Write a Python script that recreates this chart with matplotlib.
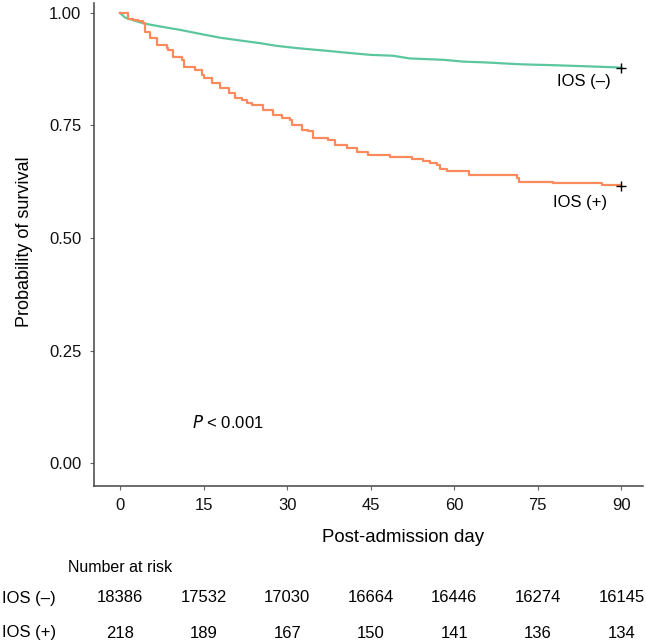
import matplotlib.pyplot as plt
from matplotlib.transforms import blended_transform_factory

plt.rcParams['font.family'] = ['Liberation Sans', 'DejaVu Sans']

# Kaplan-Meier curves (day, survival)
neg_days = [0, 0.9, 2.3, 4.2, 7.2, 11.0, 13.8, 18.0, 22.1, 25.1, 28.1, 31.7, 37.1,
            41.3, 44.9, 49.0, 52.0, 58.0, 61.6, 65.9, 71.9, 77.8, 85.0, 89.5, 90]
neg_surv = [1.0, 0.990, 0.984, 0.977, 0.970, 0.962, 0.955, 0.945, 0.938, 0.933, 0.927,
            0.922, 0.916, 0.911, 0.907, 0.905, 0.899, 0.896, 0.892, 0.890, 0.886,
            0.884, 0.881, 0.879, 0.878]

pos_days = [0, 1.5, 2.4, 3.3, 4.2, 4.5, 5.4, 6.6, 8.4, 8.7, 9.6, 11.1, 11.4, 13.5,
            14.7, 15.0, 16.5, 18.0, 19.5, 20.7, 21.9, 22.8, 23.7, 25.7, 27.5, 29.0,
            30.5, 30.8, 32.6, 33.7, 34.7, 37.4, 38.6, 40.7, 42.5, 44.6, 48.5, 52.4,
            54.4, 55.7, 56.9, 57.5, 58.7, 62.6, 71.3, 71.7, 77.8, 86.5, 90]
pos_surv = [1.0, 0.987, 0.984, 0.982, 0.977, 0.958, 0.944, 0.929, 0.922, 0.918, 0.903,
            0.896, 0.881, 0.873, 0.862, 0.855, 0.844, 0.833, 0.822, 0.811, 0.807,
            0.801, 0.796, 0.785, 0.774, 0.766, 0.762, 0.751, 0.740, 0.737, 0.722,
            0.718, 0.707, 0.701, 0.690, 0.685, 0.681, 0.675, 0.670, 0.666, 0.663,
            0.653, 0.649, 0.640, 0.633, 0.625, 0.622, 0.617, 0.615]

# number at risk table
risk_days = [0, 15, 30, 45, 60, 75, 90]
risk_neg = [18386, 17532, 17030, 16664, 16446, 16274, 16145]
risk_pos = [218, 189, 167, 150, 141, 136, 134]

green = '#5cc79f'
orange = '#fd8a5c'

fig = plt.figure(figsize=(6.46, 6.44), dpi=100)
ax = fig.add_axes([94 / 646, 1 - 486 / 644, 1 - 94 / 646 - 0.004, (486 - 3) / 644])

# the large group has tiny steps, so it reads as an almost smooth line
ax.plot(neg_days, neg_surv, color=green, lw=1.6)
ax.plot(pos_days, pos_surv, drawstyle='steps-post', color=orange, lw=1.6)
# censor marks at the end of follow-up
ax.plot([neg_days[-1], pos_days[-1]], [neg_surv[-1], pos_surv[-1]], '+',
        color='black', ms=7, mew=1.0)

ax.text(88, 0.847, 'IOS (–)', ha='right', va='center', fontsize=12)
ax.text(87.5, 0.578, 'IOS (+)', ha='right', va='center', fontsize=12)
ax.text(12.9, 0.089, r'$\it{P}$ < 0.001', ha='left', va='center', fontsize=12)

ax.set_xlim(-4.67, 93.95)
ax.set_ylim(-0.0511, 1.0222)
ax.set_xticks(risk_days)
ax.set_yticks([0, 0.25, 0.5, 0.75, 1.0])
ax.set_yticklabels(['0.00', '0.25', '0.50', '0.75', '1.00'])

for side in ['top', 'right']:
    ax.spines[side].set_visible(False)
for side in ['left', 'bottom']:
    ax.spines[side].set_color('#444444')
    ax.spines[side].set_linewidth(1.1)
ax.tick_params(axis='both', direction='out', length=3, width=0.8, color='#666666',
               labelsize=12, labelcolor='#111111')
ax.tick_params(axis='y', pad=6)
ax.tick_params(axis='x', pad=6)

fig.text(25 / 646, 1 - 242 / 644, 'Probability of survival', rotation=90,
         ha='center', va='center', fontsize=13)
fig.text(403 / 646, 1 - 538 / 644, 'Post-admission day', ha='center', va='center',
         fontsize=13.4)

# number at risk
fig.text(68 / 646, 1 - 568 / 644, 'Number at risk', ha='left', va='center', fontsize=11.5)
fig.text(2 / 646, 1 - 598 / 644, 'IOS (–)', ha='left', va='center', fontsize=12)
fig.text(2 / 646, 1 - 633 / 644, 'IOS (+)', ha='left', va='center', fontsize=12)
trans = blended_transform_factory(ax.transData, fig.transFigure)
for d, n in zip(risk_days, risk_neg):
    ax.text(d, 1 - 597 / 644, str(n), transform=trans, ha='center', va='center',
            fontsize=12, clip_on=False)
for d, n in zip(risk_days, risk_pos):
    ax.text(d, 1 - 634 / 644, str(n), transform=trans, ha='center', va='center',
            fontsize=12, clip_on=False)

fig.savefig('out.png', dpi=100)
